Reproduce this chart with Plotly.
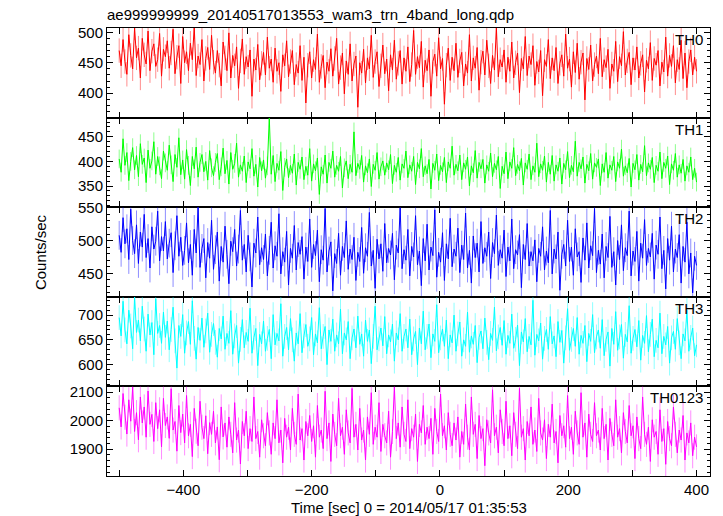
import plotly.graph_objects as go
from plotly.subplots import make_subplots

# time grid (seconds, relative to 2014/05/17 01:35:53)
times = list(range(-500, 401, 3))

th0 = [470, 445, 488, 452, 431, 496, 462, 440, 507, 458, 474, 425, 490, 463, 448, 502, 437, 469, 481, 444, 455, 498, 428, 472, 460,
       486, 441, 466, 505, 432, 459, 478, 416, 493, 450, 468, 437, 482, 455, 509, 429, 461, 447, 488, 420, 457, 475, 439, 495, 451,
       433, 470, 446, 412, 484, 458, 437, 499, 425, 462, 445, 476, 408, 453, 489, 431, 460, 443, 471, 395, 456, 438, 480, 422, 449,
       467, 430, 492, 441, 456, 418, 474, 436, 450, 403, 463, 445, 486, 427, 452, 470, 414, 447, 433, 478, 421, 459, 384, 446, 468,
       425, 455, 439, 497, 418, 444, 462, 409, 451, 436, 473, 428, 457, 490, 415, 442, 466, 399, 453, 431, 481, 420, 448, 461, 377,
       450, 433, 472, 417, 458, 440, 495, 426, 452, 468, 411, 445, 479, 432, 456, 404, 463, 438, 487, 423, 449, 470, 415, 458, 436,
       476, 419, 447, 503, 431, 460, 442, 485, 410, 454, 437, 471, 395, 452, 464, 428, 491, 440, 457, 382, 446, 474, 421, 459, 437,
       482, 426, 453, 467, 412, 448, 433, 496, 420, 458, 441, 475, 405, 451, 469, 430, 487, 445, 416, 462, 438, 508, 427, 455, 443,
       471, 418, 459, 436, 484, 425, 450, 466, 401, 457, 440, 493, 429, 461, 447, 478, 413, 452, 435, 470, 396, 455, 444, 488, 424,
       458, 437, 475, 416, 449, 463, 428, 497, 441, 456, 410, 468, 434, 482, 423, 451, 466, 389, 457, 439, 479, 420, 447, 461, 432,
       490, 427, 455, 442, 472, 408, 448, 436, 485, 419, 460, 445, 501, 430, 453, 467, 414, 458, 438, 476, 425, 449, 463, 402, 454,
       440, 483, 421, 457, 446, 470, 412, 451, 435, 492, 428, 462, 444, 478, 417, 455, 439, 487, 424, 466, 409, 452, 471, 430, 459,
       436]

th1 = [405, 378, 446, 392, 418, 361, 400, 428, 383, 412, 369, 436, 394, 407, 357, 423, 386, 401, 440, 374, 410, 391, 365, 421, 397,
       382, 433, 393, 359, 414, 388, 448, 373, 403, 364, 424, 392, 351, 410, 385, 429, 368, 398, 414, 379, 400, 362, 422, 387, 371,
       398, 416, 363, 389, 427, 375, 402, 354, 418, 384, 396, 437, 368, 393, 380, 411, 357, 399, 385, 426, 370, 394, 348, 408, 381,
       403, 366, 391, 488, 374, 412, 359, 396, 382, 420, 341, 388, 405, 367, 392, 376, 415, 352, 398, 384, 409, 363, 390, 372, 426,
       360, 395, 381, 407, 333, 389, 374, 413, 356, 398, 386, 421, 368, 392, 380, 410, 346, 387, 401, 365, 394, 378, 460, 371, 396,
       384, 412, 358, 391, 377, 405, 349, 394, 382, 418, 364, 389, 401, 372, 397, 383, 414, 355, 392, 378, 408, 362, 395, 386, 421,
       367, 393, 380, 410, 353, 398, 385, 426, 369, 391, 375, 404, 344, 396, 382, 415, 361, 392, 379, 408, 357, 399, 386, 431, 372,
       394, 381, 413, 363, 397, 384, 409, 350, 391, 377, 422, 366, 398, 385, 404, 356, 393, 380, 417, 369, 396, 383, 410, 345, 390,
       375, 419, 365, 399, 386, 428, 371, 394, 381, 406, 352, 397, 384, 415, 363, 391, 378, 437, 369, 395, 382, 411, 358, 398, 374,
       412, 360, 393, 380, 407, 354, 396, 383, 420, 367, 392, 379, 441, 370, 398, 385, 409, 356, 394, 381, 416, 364, 397, 388, 405,
       351, 395, 378, 418, 366, 393, 382, 410, 359, 399, 386, 425, 370, 391, 377, 406, 348, 396, 383, 414, 362, 394, 379, 432, 371,
       397, 384, 408, 357, 392, 380, 419, 365, 398, 386, 411, 353, 395, 382, 416, 368, 393, 376, 404, 360, 391, 378, 409, 363, 386,
       358]

th2 = [508, 482, 535, 495, 518, 471, 548, 500, 480, 524, 465, 513, 490, 540, 474, 503, 458, 521, 487, 499, 545, 469, 506, 484, 529,
       472, 496, 512, 451, 492, 538, 476, 505, 462, 485, 527, 466, 494, 447, 517, 481, 551, 459, 488, 503, 443, 497, 473, 531, 456,
       486, 513, 438, 491, 467, 522, 479, 434, 499, 483, 517, 461, 487, 546, 470, 494, 452, 508, 475, 429, 496, 481, 536, 463, 489,
       471, 510, 446, 485, 528, 458, 492, 476, 541, 449, 483, 467, 514, 432, 488, 473, 523, 455, 497, 479, 506, 441, 490, 468, 533,
       459, 494, 477, 516, 437, 486, 470, 549, 452, 484, 498, 423, 480, 465, 511, 447, 491, 474, 530, 456, 487, 471, 505, 439, 482,
       468, 520, 450, 489, 476, 543, 461, 485, 427, 502, 472, 495, 453, 526, 466, 488, 478, 511, 440, 493, 481, 550, 457, 486, 470,
       517, 446, 491, 475, 538, 463, 484, 431, 503, 469, 525, 455, 490, 477, 547, 444, 482, 467, 512, 439, 495, 472, 534, 460, 487,
       476, 519, 451, 493, 471, 542, 458, 485, 435, 507, 474, 496, 452, 529, 465, 489, 476, 513, 442, 497, 480, 539, 462, 486, 473,
       516, 445, 490, 469, 533, 457, 486, 478, 509, 428, 494, 471, 526, 461, 483, 469, 501, 437, 488, 476, 521, 455, 484, 466, 546,
       449, 487, 472, 513, 424, 479, 494, 461, 531, 468, 490, 447, 518, 475, 483, 436, 504, 470, 527, 458, 492, 477, 549, 451, 485,
       464, 510, 443, 491, 474, 537, 459, 483, 432, 500, 471, 524, 454, 489, 477, 545, 446, 484, 468, 514, 438, 496, 473, 532, 462,
       488, 475, 511, 441, 493, 479, 536, 457, 485, 426, 503, 470, 522, 452, 487, 474, 509, 435, 491, 467, 528, 449, 481, 420, 476,
       462]

th3 = [695, 658, 728, 670, 642, 710, 678, 632, 737, 665, 690, 648, 718, 672, 627, 702, 660, 685, 620, 733, 663, 679, 643, 706, 655,
       688, 630, 671, 716, 648, 593, 679, 657, 701, 623, 664, 687, 641, 729, 653, 611, 675, 649, 694, 635, 668, 704, 625, 661, 683,
       645, 615, 673, 652, 698, 631, 663, 643, 709, 621, 658, 679, 603, 651, 691, 634, 665, 647, 714, 623, 655, 673, 598, 661, 642,
       688, 627, 653, 671, 612, 701, 640, 663, 648, 723, 617, 657, 675, 630, 693, 650, 607, 664, 642, 703, 624, 658, 681, 637, 652,
       695, 620, 662, 644, 715, 632, 657, 677, 600, 670, 647, 692, 627, 660, 642, 712, 622, 664, 650, 687, 612, 654, 672, 634, 698,
       641, 662, 617, 690, 647, 670, 602, 657, 718, 630, 652, 674, 638, 697, 622, 660, 646, 682, 607, 664, 650, 703, 627, 657, 672,
       634, 692, 620, 652, 667, 600, 674, 642, 708, 630, 657, 682, 614, 662, 647, 721, 624, 654, 672, 637, 690, 612, 660, 644, 700,
       627, 662, 686, 617, 650, 637, 706, 625, 658, 641, 679, 604, 655, 668, 632, 694, 645, 610, 663, 649, 716, 628, 656, 675, 639,
       689, 621, 659, 643, 702, 633, 651, 680, 598, 666, 646, 693, 626, 657, 640, 730, 619, 661, 648, 684, 611, 653, 671, 631, 697,
       642, 658, 616, 687, 645, 669, 603, 654, 713, 629, 651, 673, 637, 695, 621, 659, 643, 679, 606, 663, 647, 701, 624, 656, 670,
       633, 691, 618, 651, 666, 597, 673, 641, 707, 629, 656, 681, 613, 661, 646, 719, 623, 653, 671, 636, 689, 609, 659, 643, 699,
       626, 661, 692, 616, 649, 634, 704, 622, 657, 640, 677, 603, 654, 667, 631, 693, 644, 612, 662, 648, 710, 627, 655, 674, 618,
       640]

th0123 = [2045, 1978, 2095, 2012, 1953, 2073, 1998, 2118, 1962, 2028, 1933, 2083, 1992, 2048, 1942, 2104, 1987, 2022, 1927, 2063, 1972, 2038, 1908, 2078, 1983,
          2013, 1938, 2112, 1967, 1997, 1893, 2053, 1958, 2023, 1922, 2088, 1947, 1987, 1874, 2043, 1963, 1912, 2068, 1977, 1937, 2017, 1884, 1993, 1952, 2033,
          1922, 1978, 1863, 2048, 1943, 1992, 1907, 2013, 1952, 1887, 2063, 1932, 1967, 1848, 1997, 1947, 2033, 1902, 1972, 1927, 2083, 1937, 1962, 1872, 2003,
          1947, 1912, 2028, 1957, 1882, 1992, 1937, 2073, 1922, 1967, 1852, 2008, 1942, 1977, 1897, 2043, 1952, 1917, 2093, 1932, 1972, 1862, 1997, 1947, 2018,
          1927, 1982, 1872, 2053, 1942, 1967, 1902, 2103, 1937, 1992, 1857, 2023, 1952, 1912, 2078, 1947, 1977, 1882, 2038, 1957, 1922, 2113, 1942, 1987, 1897,
          2043, 1932, 1967, 1862, 2013, 1952, 2098, 1917, 1977, 1942, 2063, 1892, 1987, 1947, 1922, 2033, 1872, 1962, 2118, 1937, 1992, 1907, 2048, 1952, 1927,
          2073, 1902, 1972, 1942, 2023, 1857, 1987, 1957, 2053, 1917, 1977, 1937, 2008, 1882, 2043, 1962, 1927, 2093, 1947, 1982, 1897, 2028, 1952, 1912, 1992,
          1932, 2013, 1872, 1962, 1917, 2058, 1942, 1897, 2083, 1952, 1987, 1867, 2018, 1937, 1972, 1842, 2003, 1957, 1922, 2108, 1947, 1977, 1887, 2038, 1962,
          1912, 2068, 1937, 1982, 1877, 2028, 1952, 1902, 2113, 1942, 1972, 1862, 1997, 1947, 2048, 1917, 1967, 1892, 2078, 1957, 1932, 2003, 1867, 1987, 1942,
          2058, 1922, 1962, 1852, 2018, 1947, 1982, 1907, 2088, 1937, 1977, 1882, 2033, 1957, 1917, 2098, 1942, 1992, 1872, 2023, 1952, 1927, 2063, 1947, 1967,
          1897, 2043, 1937, 1987, 1862, 2008, 1952, 1912, 2073, 1942, 1972, 1887, 2028, 1962, 1922, 2053, 1947, 1982, 1867, 2013, 1937, 1902, 2083, 1952, 1917,
          1977, 1857, 2003, 1942, 1962, 1882, 2038, 1927, 1972, 1847, 1997, 1937, 1912, 2048, 1952, 1887, 1967, 1932, 2018, 1862, 1957, 1922, 1992, 1877, 1942,
          1908]

# typical 1-sigma errors per band (counts/sec)
errors = [20, 19, 22, 25, 44]

names = ["TH0", "TH1", "TH2", "TH3", "TH0123"]
series = [th0, th1, th2, th3, th0123]
colors = ["#ff0000", "#00ff00", "#0000ff", "#00ffff", "#ff00ff"]
err_colors = ["rgba(255,0,0,0.45)", "rgba(0,255,0,0.45)", "rgba(0,0,255,0.45)",
              "rgba(0,255,255,0.45)", "rgba(255,0,255,0.45)"]
yranges = [[360, 507], [307, 489], [414, 551], [556, 737], [1806, 2120]]
ydticks = [50, 50, 50, 50, 100]
yminor = [10, 10, 10, 10, 20]
xticks = [-500, -400, -300, -200, -100, 0, 100, 200, 300, 400]
xticklabels = ["", "\u2212400", "", "\u2212200", "", "0", "", "200", "", "400"]

FONT = "Liberation Sans, Arial, sans-serif"

fig = make_subplots(rows=5, cols=1, shared_xaxes=True, vertical_spacing=0)

for i in range(5):
    fig.add_trace(go.Scatter(
        x=times, y=series[i], mode="lines",
        line=dict(color=colors[i], width=1),
        error_y=dict(type="constant", value=errors[i], color=err_colors[i],
                     thickness=1, width=0),
        showlegend=False, hoverinfo="skip"), row=i + 1, col=1)
    fig.update_yaxes(
        range=yranges[i], dtick=ydticks[i], tick0=0,
        ticks="inside", ticklen=6, tickwidth=1, tickcolor="black",
        minor=dict(dtick=yminor[i], ticks="inside", ticklen=3, tickcolor="black", showgrid=False),
        showline=True, linecolor="black", linewidth=1, mirror="allticks",
        showgrid=False, zeroline=False,
        tickfont=dict(family=FONT, size=15, color="black"),
        row=i + 1, col=1)
    fig.update_xaxes(
        range=[-519, 421], tickvals=xticks, ticktext=xticklabels,
        ticks="inside", ticklen=6, tickwidth=1, tickcolor="black",
        showline=True, linecolor="black", linewidth=1, mirror="allticks",
        showgrid=False, zeroline=False, showticklabels=(i == 4),
        tickfont=dict(family=FONT, size=15, color="black"),
        row=i + 1, col=1)
    fig.add_annotation(
        text=names[i], xref="x domain" if i == 0 else f"x{i+1} domain",
        yref="y domain" if i == 0 else f"y{i+1} domain",
        x=1, y=1, xanchor="right", yanchor="top", xshift=-5, yshift=-1,
        showarrow=False,
        font=dict(family=FONT, size=15, color="black"))

fig.add_annotation(
    text="ae999999999_20140517013553_wam3_trn_4band_long.qdp",
    xref="paper", yref="paper", x=0, y=1, xanchor="left", yanchor="bottom",
    xshift=-2, yshift=3, showarrow=False,
    font=dict(family=FONT, size=15, color="black"))
fig.add_annotation(
    text="Counts/sec", xref="paper", yref="paper", x=-0.111, y=0.5,
    xanchor="center", yanchor="middle",
    textangle=-90, showarrow=False,
    font=dict(family=FONT, size=15, color="black"))
fig.add_annotation(
    text="Time [sec] 0 = 2014/05/17 01:35:53", xref="paper", yref="paper",
    x=0.5, y=0, yanchor="top", yshift=-21, showarrow=False,
    font=dict(family=FONT, size=15, color="black"))

fig.update_layout(
    width=723, height=516,
    margin=dict(l=107, r=13, t=28, b=40),
    paper_bgcolor="white", plot_bgcolor="white",
)

fig.write_html("out.html", config={"displayModeBar": False},
               post_script="document.body.style.margin='0px';")
